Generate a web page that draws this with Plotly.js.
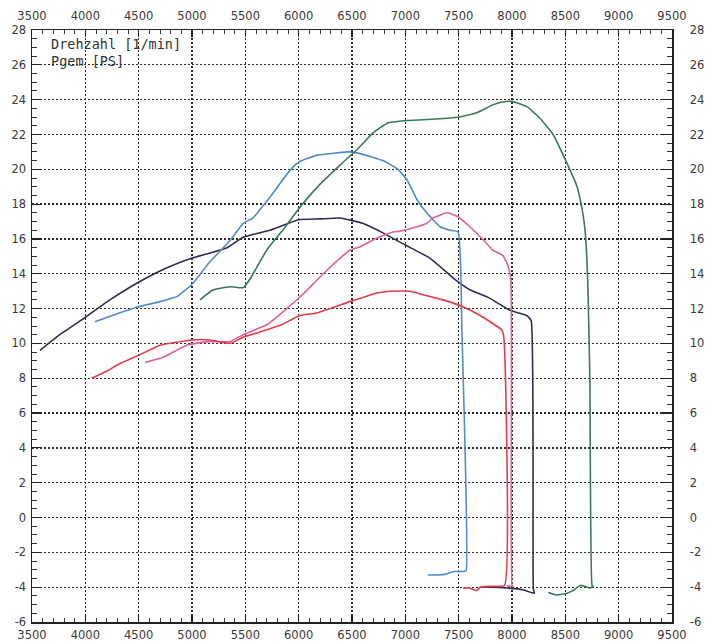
<!DOCTYPE html>
<html>
<head>
<meta charset="utf-8">
<script src="https://cdn.plot.ly/plotly-3.0.1.min.js"></script>
<style>html,body{margin:0;padding:0;background:#fff;}#chart{width:707px;height:641px;}</style>
</head>
<body>
<div id="chart"></div>
<script>
// Axis ticks
const xTicks = [3500, 4000, 4500, 5000, 5500, 6000, 6500, 7000, 7500, 8000, 8500, 9000, 9500];
const yTicks = [-6, -4, -2, 0, 2, 4, 6, 8, 10, 12, 14, 16, 18, 20, 22, 24, 26, 28];
const legendLines = ["Drehzahl [1/min]", "Pgem [PS]"];

// Navy / black run
const navyRpm = [3575, 3760, 4000, 4230, 4495, 4750, 5000, 5330, 5480, 5730, 6000, 6200, 6390, 6600, 6790, 7000, 7230, 7480, 7600, 7790, 7980, 8140, 8180, 8200, 8210, 8100, 7950, 7800, 7700];
const navyVal = [9.6, 10.5, 11.5, 12.5, 13.5, 14.3, 14.9, 15.5, 16.1, 16.5, 17.1, 17.15, 17.2, 16.9, 16.35, 15.65, 14.9, 13.6, 13.1, 12.6, 11.9, 11.6, 11.3, -4.1, -4.35, -4.15, -4.05, -4.0, -4.0];

// Blue run
const blueRpm = [4090, 4300, 4495, 4700, 4860, 5000, 5170, 5355, 5480, 5570, 5730, 5920, 6010, 6170, 6480, 6575, 6790, 6920, 7015, 7110, 7200, 7325, 7420, 7495, 7530, 7570, 7550, 7450, 7380, 7300, 7210];
const blueVal = [11.25, 11.7, 12.1, 12.4, 12.7, 13.4, 14.7, 15.9, 16.9, 17.2, 18.4, 19.95, 20.45, 20.8, 21.0, 20.9, 20.5, 20.05, 19.4, 18.25, 17.5, 16.7, 16.5, 16.4, 10.8, -3.05, -3.1, -3.1, -3.25, -3.3, -3.3];

// Green run
const greenRpm = [5075, 5190, 5290, 5375, 5480, 5545, 5610, 5710, 5850, 6010, 6170, 6390, 6550, 6700, 6830, 7015, 7325, 7510, 7670, 7820, 7900, 8000, 8140, 8260, 8385, 8515, 8610, 8655, 8685, 8710, 8730, 8750, 8760, 8730, 8685, 8640, 8570, 8515, 8420, 8340];
const greenVal = [12.5, 13.05, 13.2, 13.25, 13.2, 13.7, 14.4, 15.45, 16.5, 17.8, 18.95, 20.25, 21.15, 22.1, 22.65, 22.8, 22.9, 23.0, 23.25, 23.7, 23.85, 23.9, 23.6, 22.95, 22.0, 20.35, 19.0, 17.8, 16.5, 13.6, 8.0, -3.9, -3.95, -4.05, -3.95, -3.9, -4.2, -4.35, -4.45, -4.3];

// Pink run
const pinkRpm = [4560, 4730, 4950, 5140, 5355, 5480, 5710, 5850, 6010, 6265, 6480, 6575, 6735, 6885, 6950, 7110, 7200, 7260, 7390, 7485, 7605, 7730, 7820, 7915, 7960, 7990, 8000, 8010, 7980, 7950];
const pinkVal = [8.9, 9.2, 9.9, 10.1, 10.1, 10.5, 11.1, 11.8, 12.65, 14.2, 15.35, 15.55, 16.05, 16.4, 16.45, 16.7, 16.9, 17.2, 17.5, 17.3, 16.7, 15.95, 15.35, 15.05, 14.5, 13.6, -3.9, -3.95, -3.95, -3.9];

// Red run
const redRpm = [4060, 4200, 4325, 4495, 4700, 5000, 5170, 5355, 5480, 5710, 5850, 6010, 6170, 6480, 6735, 6855, 7045, 7165, 7355, 7540, 7730, 7830, 7900, 7920, 7930, 7800, 7700, 7670, 7600, 7540];
const redVal = [8.0, 8.4, 8.85, 9.3, 9.9, 10.2, 10.2, 10.0, 10.35, 10.8, 11.1, 11.6, 11.75, 12.4, 12.9, 13.0, 13.0, 12.8, 12.5, 12.1, 11.5, 11.1, 10.8, 10.5, -3.9, -3.95, -4.0, -4.2, -4.05, -4.05];

const series = [
  {x: navyRpm, y: navyVal, color: '#2c2e52'},
  {x: blueRpm, y: blueVal, color: '#4f8ccc'},
  {x: greenRpm, y: greenVal, color: '#3b7a58'},
  {x: pinkRpm, y: pinkVal, color: '#e0609c'},
  {x: redRpm, y: redVal, color: '#e23b4b'}
];

const traces = series.map(s => ({
  type: 'scatter', mode: 'lines', x: s.x, y: s.y,
  line: {color: s.color, width: 1.6, shape: 'spline', smoothing: 0.4},
  hoverinfo: 'skip', showlegend: false
}));

// invisible carrier for the mirrored top/right axes
traces.push({type: 'scatter', mode: 'lines', x: navyRpm, y: navyVal, xaxis: 'x2', yaxis: 'y2',
  line: {width: 0, color: 'rgba(0,0,0,0)'}, hoverinfo: 'skip', showlegend: false});

const tickFont = {family: 'DejaVu Sans, sans-serif', size: 11.5, color: '#3a3a3a'};
const xRange = [xTicks[0], xTicks[xTicks.length - 1]];
const yRange = [yTicks[0], yTicks[yTicks.length - 1]];

const xBase = {
  range: xRange, tickvals: xTicks, ticktext: xTicks.map(String),
  ticks: 'inside', ticklen: 7, tickwidth: 1.2, tickcolor: '#222',
  minor: {dtick: 100, ticks: 'inside', ticklen: 4, tickwidth: 1, tickcolor: '#333', showgrid: false},
  showline: true, linecolor: '#222', linewidth: 1.5,
  tickfont: tickFont, zeroline: false, fixedrange: true
};
const yBase = {
  range: yRange, tickvals: yTicks, ticktext: yTicks.map(String),
  ticks: 'inside', ticklen: 10, tickwidth: 1.2, tickcolor: '#222',
  minor: {dtick: 0.5, ticks: 'inside', ticklen: 5, tickwidth: 1, tickcolor: '#333', showgrid: false},
  showline: true, linecolor: '#222', linewidth: 1.5,
  tickfont: tickFont, zeroline: false, fixedrange: true
};

const layout = {
  width: 707, height: 641,
  margin: {l: 32, r: 35, t: 30, b: 19},
  paper_bgcolor: '#ffffff', plot_bgcolor: '#ffffff',
  showlegend: false,
  xaxis: Object.assign({}, xBase, {side: 'bottom', showgrid: true, gridcolor: '#2a2a2a', gridwidth: 1.3, griddash: '1.5px,2.5px', ticklabelstandoff: 2}),
  yaxis: Object.assign({}, yBase, {side: 'left', showgrid: true, gridcolor: '#2a2a2a', gridwidth: 1.3, griddash: '1.5px,2.5px', ticklabelstandoff: 2}),
  xaxis2: Object.assign({}, xBase, {side: 'top', overlaying: 'x', anchor: 'y', showgrid: false, ticklabelstandoff: 4}),
  yaxis2: Object.assign({}, yBase, {side: 'right', overlaying: 'y', anchor: 'x', showgrid: false, ticklabelstandoff: 14}),
  annotations: legendLines.map((t, i) => ({
    text: t, xref: 'paper', yref: 'paper', x: 0.027, y: 0.977 - i * 0.029,
    xanchor: 'left', yanchor: 'middle', showarrow: false,
    font: {family: 'DejaVu Sans Mono, monospace', size: 13.5, color: '#333'}
  }))
};

Plotly.newPlot('chart', traces, layout, {displayModeBar: false, staticPlot: true});
</script>
</body>
</html>
